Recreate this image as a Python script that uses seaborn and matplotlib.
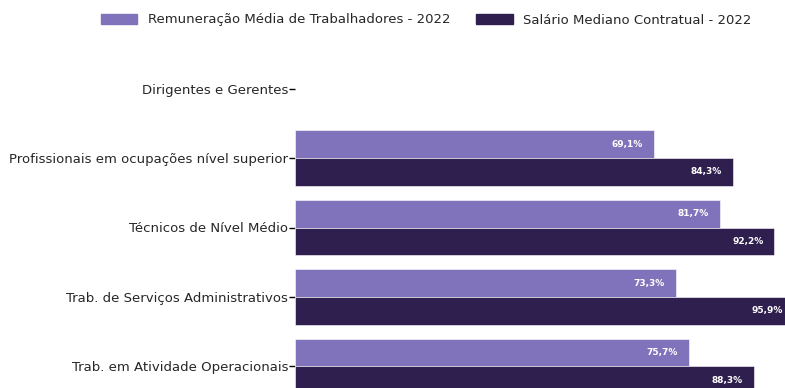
import pandas as pd
import numpy as np
import matplotlib
matplotlib.use("Agg")
import matplotlib.pyplot as plt
import seaborn as sns

categories = [
    "Dirigentes e Gerentes",
    "Profissionais em ocupações nível superior",
    "Técnicos de Nível Médio",
    "Trab. de Serviços Administrativos",
    "Trab. em Atividade Operacionais",
]
remuneracao = [np.nan, 69.1, 81.7, 73.3, 75.7]
salario = [np.nan, 84.3, 92.2, 95.9, 88.3]
series_names = [
    "Remuneração Média de Trabalhadores - 2022",
    "Salário Mediano Contratual - 2022",
]
colors = ["#8073bb", "#2e1f4e"]

df = pd.DataFrame({
    "categoria": categories * 2,
    "valor": remuneracao + salario,
    "serie": [series_names[0]] * len(categories) + [series_names[1]] * len(categories),
})

sns.set_theme(style="white")
plt.rcParams["font.family"] = ["DejaVu Sans"]

fig = plt.figure(figsize=(7.85, 3.88), dpi=100)
# axes runs past the right and bottom edges, as in the cropped original
ax = fig.add_axes([295 / 785, (388 - 401) / 388, 520 / 785, 347 / 388])

sns.barplot(data=df, y="categoria", x="valor", hue="serie", order=categories,
            hue_order=series_names, palette=colors, orient="h", width=0.8,
            saturation=1, edgecolor="white", linewidth=0.4, ax=ax)

for container in ax.containers:
    for bar in container:
        w = bar.get_width()
        if np.isnan(w) or w == 0:
            continue
        label = f"{w:.1f}%".replace(".", ",")
        ax.annotate(label, xy=(w, bar.get_y() + bar.get_height() / 2),
                    xytext=(-8, 0), textcoords="offset points",
                    ha="right", va="center", color="white",
                    fontsize=6.5, fontweight="bold")

ax.set_xlim(0, 100)
ax.set_xlabel("")
ax.set_ylabel("")
ax.set_xticks([])
ax.tick_params(axis="y", left=True, length=4, width=1, color="black",
               labelsize=9.5, pad=1)
sns.despine(ax=ax, left=True, bottom=True)

ax.get_legend().remove()
handles = [plt.Rectangle((0, 0), 1, 1, color=c) for c in colors]
fig.legend(handles, series_names, loc="center", bbox_to_anchor=(426 / 785, 1 - 20 / 388),
           ncol=2, frameon=False, fontsize=9.5, handlelength=2.8,
           handletextpad=0.8, columnspacing=1.9)

fig.savefig("out.png", dpi=100)
